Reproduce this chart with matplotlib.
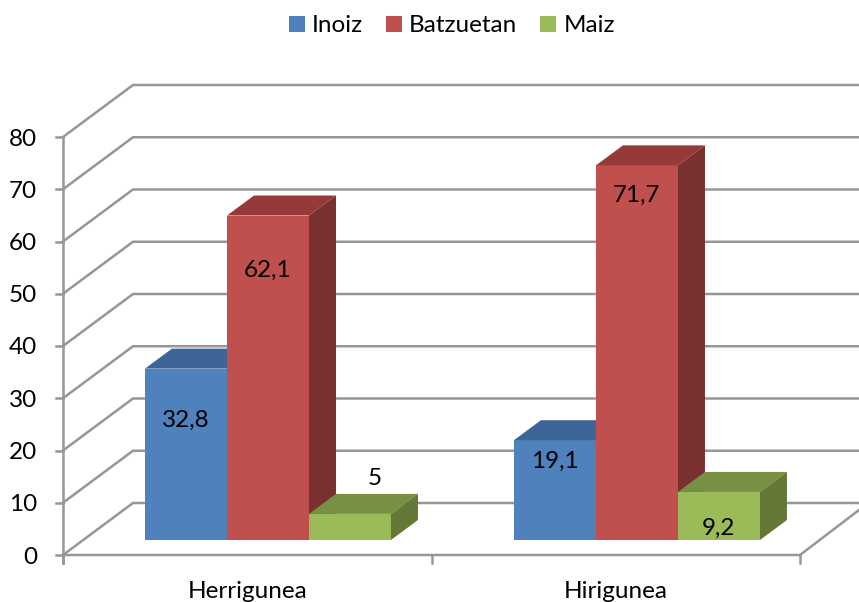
import matplotlib
matplotlib.use("Agg")
import matplotlib.pyplot as plt
from matplotlib.patches import Polygon, Patch

categories = ["Herrigunea", "Hirigunea"]
series = ["Inoiz", "Batzuetan", "Maiz"]
inoiz = [32.8, 19.1]
batzuetan = [62.1, 71.7]
maiz = [5, 9.2]
ticks = [0, 10, 20, 30, 40, 50, 60, 70, 80]

front = ["#4F81BD", "#C0504D", "#9BBB59"]
top = ["#3D6595", "#953A38", "#789043"]
side = ["#335379", "#7A302E", "#647837"]
grid = "#969696"

plt.rcParams["font.family"] = ["Lato", "DejaVu Sans"]

W, H = 859, 602
fig = plt.figure(figsize=(W / 100, H / 100), dpi=100)
ax = fig.add_axes([0, 0, 1, 1])

# one category = 368.5 px wide, one value unit = 5.225 px high
ux = 368.5
uy = 5.225
ax.set_xlim(-63 / ux, (W - 63) / ux)
ax.set_ylim(-(H - 555) / uy, 555 / uy)
ax.axis("off")

# oblique offsets of the 3d box
wall_x, wall_y = 70 / ux, 52 / uy
deep_x, deep_y = 27 / ux, 20 / uy
base = 15 / uy
bar_w = 82 / ux
xmax = W / ux
fs = 17.5

lw = 1.8
for t in ticks:
    ax.plot([0, wall_x, xmax], [t, t + wall_y, t + wall_y], color=grid, lw=lw, zorder=1, solid_joinstyle="miter")
    ax.plot([-7 / ux, 0], [t, t], color=grid, lw=lw, zorder=1)
    ax.text(-26 / ux, t, str(t), ha="right", va="center_baseline", fontsize=fs, color="black")

ax.plot([0, 0], [-8 / uy, 80], color=grid, lw=lw, zorder=1)
ax.plot([0, 2, 2 + 59 / ux], [0, 0, 45 / uy], color=grid, lw=lw, zorder=2, solid_joinstyle="miter")
for c in [0, 1, 2]:
    ax.plot([c, c], [-8 / uy, 0], color=grid, lw=lw, zorder=2)

label_dy = [[50, 19], [53, 28], [-37, 34]]
for s, vals in enumerate([inoiz, batzuetan, maiz]):
    for c, v in enumerate(vals):
        x0 = c + 0.2225 + (0.0013 * c) + s * bar_w
        y1 = base + v
        z = 3 + s
        ax.bar(x0, v, bar_w, bottom=base, align="edge", color=front[s], zorder=z, lw=0)
        ax.add_patch(Polygon([(x0, y1), (x0 + deep_x, y1 + deep_y), (x0 + bar_w + deep_x, y1 + deep_y), (x0 + bar_w, y1)],
                             fc=top[s], lw=0, zorder=z))
        ax.add_patch(Polygon([(x0 + bar_w, base), (x0 + bar_w + deep_x, base + deep_y), (x0 + bar_w + deep_x, y1 + deep_y), (x0 + bar_w, y1)],
                             fc=side[s], lw=0, zorder=z))
        ax.text(x0 + bar_w / 2 + (25 / ux if s == 2 and c == 0 else 0), y1 - label_dy[s][c] / uy,
                str(v).replace(".", ","), ha="center", va="center_baseline", fontsize=fs, color="black", zorder=10)

for c, name in enumerate(categories):
    ax.text(c + 0.5, -(590 - 555) / uy, name, ha="center", va="center_baseline", fontsize=fs)

handles = [Patch(fc=front[i], lw=0, label=series[i]) for i in range(3)]
ax.legend(handles=handles, loc="center", bbox_to_anchor=(452 / W, 1 - 26 / H), ncol=3, frameon=False,
          fontsize=fs, handlelength=0.64, handleheight=0.64, handletextpad=0.3, columnspacing=0.95, borderpad=0)

fig.savefig("out.png", dpi=100)
